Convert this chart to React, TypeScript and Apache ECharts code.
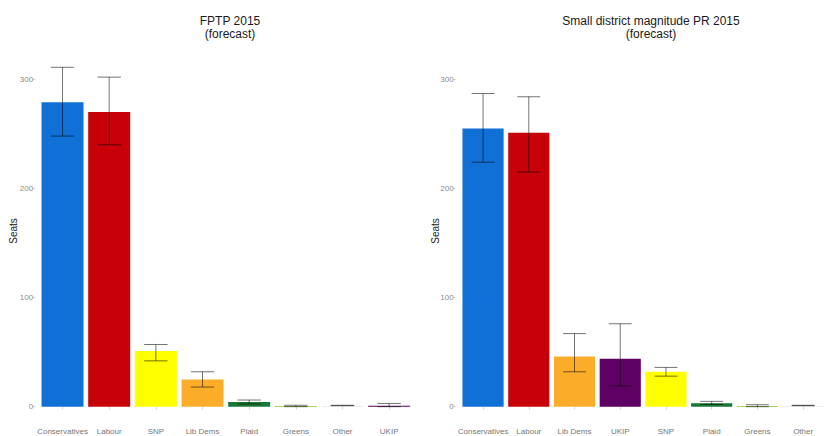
import React, { useEffect, useRef } from "react";
import * as echarts from "echarts";

const fptpParties = ["Conservatives", "Labour", "SNP", "Lib Dems", "Plaid", "Greens", "Other", "UKIP"];
const fptpSeats = [279, 270, 51, 25, 4.3, 0.7, 0.4, 0.8];
const fptpLow = [248, 240, 42, 18, 2.5, 0, 0.9, 0];
const fptpHigh = [311, 302, 57, 32, 6.1, 1.3, 1.3, 3];

const prParties = ["Conservatives", "Labour", "Lib Dems", "UKIP", "SNP", "Plaid", "Greens", "Other"];
const prSeats = [255, 251, 46, 44, 32, 3.1, 0.7, 0.4];
const prLow = [224, 215, 32, 19, 28, 2.2, 0, 0.9];
const prHigh = [287, 284, 67, 76, 36, 4.9, 1.8, 1.3];

const yTicks = [0, 100, 200, 300];

const partyColors: Record<string, string> = {
  Conservatives: "#1070D5",
  Labour: "#C8000A",
  SNP: "#FFFF00",
  "Lib Dems": "#FBAD2A",
  Plaid: "#177A34",
  Greens: "#80CC28",
  Other: "#DDDDDD",
  UKIP: "#5E0064",
};

const FONT = "'Liberation Sans', Arial, sans-serif";

export default function App() {
  const ref = useRef<HTMLDivElement>(null);
  useEffect(() => {
    if (!ref.current) return;
    const chart = echarts.init(ref.current, null, { renderer: "svg" });

    const errRender = (params: any, api: any) => {
      const x = api.value(0);
      const lo = api.coord([x, api.value(1)]);
      const hi = api.coord([x, api.value(2)]);
      const band = api.size([1, 0])[0];
      const half = band * 0.25;
      const style = { stroke: "rgba(0,0,0,0.55)", lineWidth: 1, fill: null };
      return {
        type: "group",
        children: [
          { type: "line", shape: { x1: lo[0], y1: lo[1], x2: hi[0], y2: hi[1] }, style },
          { type: "line", shape: { x1: hi[0] - half, y1: hi[1], x2: hi[0] + half, y2: hi[1] }, style },
          { type: "line", shape: { x1: lo[0] - half, y1: lo[1], x2: lo[0] + half, y2: lo[1] }, style },
        ],
      };
    };

    const makeX = (cats: string[], gridIndex: number) => ({
      type: "category",
      gridIndex,
      data: cats,
      offset: 16.5,
      axisLine: { show: false },
      axisTick: { show: true, length: 3, alignWithLabel: true, lineStyle: { color: "#bbbbbb", width: 0.6 } },
      axisLabel: { color: "#777777", fontSize: 8, fontFamily: FONT, margin: 4, interval: 0 },
      splitLine: { show: false },
    });

    const makeY = (gridIndex: number, off: number) => ({
      type: "value",
      gridIndex,
      min: 0,
      max: 300,
      interval: 100,
      offset: off,
      axisLine: { show: false },
      axisTick: { show: true, length: 2, lineStyle: { color: "#aaaaaa", width: 0.6 } },
      axisLabel: {
        color: "#8a8a8a",
        fontSize: 8,
        fontFamily: FONT,
        margin: 2,
        formatter: (v: number) => (yTicks.includes(v) ? String(v) : ""),
      },
      splitLine: { show: false },
    });

    const option: any = {
      animation: false,
      backgroundColor: "#ffffff",
      title: [
        {
          text: "FPTP 2015\n(forecast)",
          left: 225,
          top: 9,
          textAlign: "center",
          textStyle: { fontSize: 12, fontWeight: "normal", color: "#1a1a1a", fontFamily: FONT, lineHeight: 13.5 },
        },
        {
          text: "Small district magnitude PR 2015\n(forecast)",
          left: 646,
          top: 9,
          textAlign: "center",
          textStyle: { fontSize: 12, fontWeight: "normal", color: "#1a1a1a", fontFamily: FONT, lineHeight: 13.5 },
        },
      ],
      grid: [
        { left: 39.2, right: 413.5, top: 79.3, bottom: 29.3 },
        { left: 460.2, right: -2.2, top: 79.3, bottom: 29.3 },
      ],
      xAxis: [makeX(fptpParties, 0), makeX(prParties, 1)],
      yAxis: [makeY(0, 4), makeY(1, 4.6)],
      graphic: [
        {
          type: "text",
          x: 13,
          y: 231,
          rotation: Math.PI / 2,
          style: { text: "Seats", fontSize: 10, fontFamily: FONT, fill: "#1a1a1a", align: "center", verticalAlign: "middle" },
        },
        {
          type: "text",
          x: 435,
          y: 231,
          rotation: Math.PI / 2,
          style: { text: "Seats", fontSize: 10, fontFamily: FONT, fill: "#1a1a1a", align: "center", verticalAlign: "middle" },
        },
      ],
      series: [
        {
          type: "bar",
          xAxisIndex: 0,
          yAxisIndex: 0,
          barWidth: "90%",
          data: fptpSeats.map((v, i) => ({ value: v, itemStyle: { color: partyColors[fptpParties[i]] } })),
        },
        {
          type: "custom",
          xAxisIndex: 0,
          yAxisIndex: 0,
          clip: false,
          renderItem: errRender,
          data: fptpParties.map((_, i) => [i, fptpLow[i], fptpHigh[i]]),
          z: 5,
        },
        {
          type: "bar",
          xAxisIndex: 1,
          yAxisIndex: 1,
          barWidth: "90%",
          data: prSeats.map((v, i) => ({ value: v, itemStyle: { color: partyColors[prParties[i]] } })),
        },
        {
          type: "custom",
          xAxisIndex: 1,
          yAxisIndex: 1,
          clip: false,
          renderItem: errRender,
          data: prParties.map((_, i) => [i, prLow[i], prHigh[i]]),
          z: 5,
        },
      ],
    };
    chart.setOption(option);
    return () => chart.dispose();
  }, []);

  return (
    <div
      ref={ref}
      style={{ position: "absolute", left: 0, top: 0, width: 826, height: 436 }}
    />
  );
}
